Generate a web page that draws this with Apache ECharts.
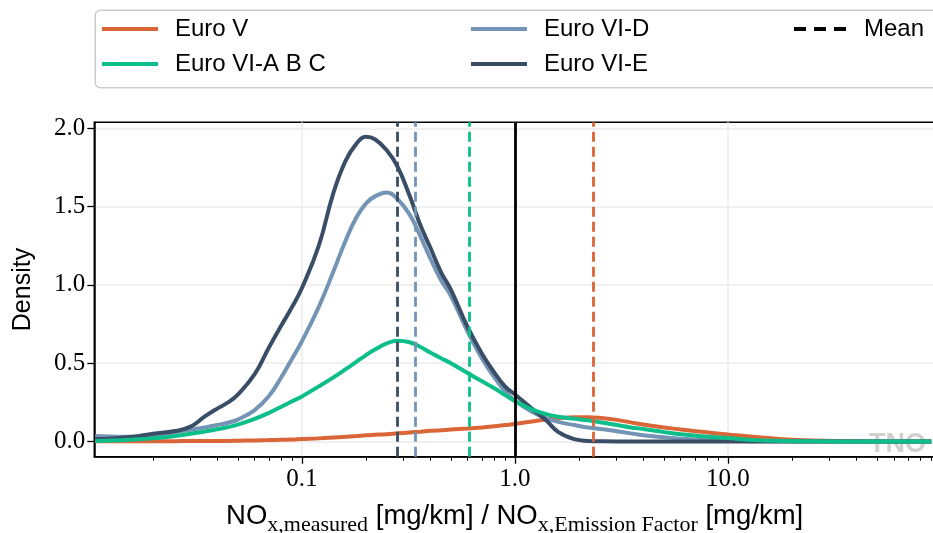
<!DOCTYPE html>
<html><head><meta charset="utf-8">
<script src="https://cdn.jsdelivr.net/npm/echarts@6/dist/echarts.min.js"></script>
<style>html,body{margin:0;padding:0;background:#fff}#c{width:933px;height:533px}</style>
</head><body><div id="c"></div>
<script>
// ---- data ----
const xValues = [0.0107, 0.013, 0.016, 0.02, 0.025, 0.03, 0.035, 0.04, 0.045, 0.05, 0.06, 0.07, 0.08, 0.09, 0.1, 0.12, 0.14, 0.16, 0.18, 0.2, 0.22, 0.25, 0.28, 0.32, 0.36, 0.4, 0.45, 0.5, 0.6, 0.7, 0.8, 0.9, 1.0, 1.2, 1.4, 1.6, 1.9, 2.2, 2.6, 3, 3.5, 4, 5, 6, 7.5, 10, 13, 18, 25, 40, 90];
const euroV = [0.001, 0.001, 0.001, 0.002, 0.002, 0.003, 0.003, 0.004, 0.004, 0.005, 0.007, 0.009, 0.011, 0.013, 0.016, 0.02, 0.025, 0.03, 0.035, 0.04, 0.043, 0.047, 0.052, 0.058, 0.063, 0.068, 0.072, 0.076, 0.083, 0.09, 0.097, 0.105, 0.112, 0.128, 0.141, 0.149, 0.155, 0.155, 0.148, 0.138, 0.122, 0.108, 0.09, 0.076, 0.062, 0.045, 0.03, 0.015, 0.006, 0.001, 0];
const euroVIABC = [0.003, 0.006, 0.012, 0.02, 0.033, 0.05, 0.064, 0.078, 0.092, 0.108, 0.145, 0.183, 0.222, 0.257, 0.288, 0.352, 0.408, 0.46, 0.508, 0.552, 0.587, 0.626, 0.644, 0.634, 0.603, 0.568, 0.532, 0.5, 0.437, 0.385, 0.34, 0.296, 0.258, 0.205, 0.175, 0.158, 0.145, 0.135, 0.12, 0.105, 0.09, 0.08, 0.06, 0.046, 0.034, 0.022, 0.01, 0.004, 0.001, 0, 0];
const euroVID = [0.035, 0.032, 0.03, 0.04, 0.058, 0.075, 0.09, 0.105, 0.12, 0.14, 0.2, 0.29, 0.41, 0.53, 0.64, 0.86, 1.08, 1.28, 1.43, 1.52, 1.565, 1.59, 1.55, 1.45, 1.31, 1.17, 1.03, 0.93, 0.7, 0.53, 0.41, 0.32, 0.26, 0.19, 0.15, 0.125, 0.105, 0.09, 0.078, 0.066, 0.052, 0.04, 0.027, 0.018, 0.011, 0.006, 0.002, 0.001, 0, 0, 0];
const euroVIE = [0.016, 0.02, 0.03, 0.05, 0.065, 0.095, 0.16, 0.21, 0.25, 0.3, 0.43, 0.6, 0.74, 0.86, 0.98, 1.25, 1.58, 1.79, 1.9, 1.945, 1.93, 1.86, 1.76, 1.57, 1.38, 1.24, 1.08, 0.97, 0.73, 0.56, 0.44, 0.35, 0.3, 0.21, 0.135, 0.06, 0.015, 0.004, 0.001, 0, 0, 0, 0, 0, 0, 0, 0, 0, 0, 0, 0];
const seriesNames = ['Euro V', 'Euro VI-A B C', 'Euro VI-D', 'Euro VI-E'];
const meanValues = [2.33, 0.615, 0.34, 0.28];
const referenceValue = 1.0;
const xMajorTicks = [0.1, 1, 10];
const xTickLabels = ['0.1', '1.0', '10.0'];
const xMinorTicks = [0.02, 0.03, 0.04, 0.05, 0.06, 0.07, 0.08, 0.09, 0.2, 0.3, 0.4, 0.5, 0.6, 0.7, 0.8, 0.9, 2, 3, 4, 5, 6, 7, 8, 9, 20, 30, 40, 50, 60, 70, 80, 90];
const yTicks = [0, 0.5, 1, 1.5, 2];
const yTickLabels = ['0.0', '0.5', '1.0', '1.5', '2.0'];

// ---- styles ----
const colors = {'Euro V': '#da6638', 'Euro VI-A B C': '#0cbf8a', 'Euro VI-D': '#7494b5', 'Euro VI-E': '#3a4d66'};
const SANS = 'Liberation Sans', SERIF = 'Liberation Serif';
const X_MIN = 0.0106, X_MAX = 93.7, Y_MIN = -0.097, Y_MAX = 2.038;

function nearestLabel(v, ticks, labels) {
  let best = 0, bd = Infinity;
  ticks.forEach((t, i) => { const d = Math.abs(Math.log(v) - Math.log(t)); if (d < bd) { bd = d; best = i; } });
  return labels[best];
}

const valueMap = {'Euro V': euroV, 'Euro VI-A B C': euroVIABC, 'Euro VI-D': euroVID, 'Euro VI-E': euroVIE};
const drawOrder = ['Euro V', 'Euro VI-D', 'Euro VI-E', 'Euro VI-A B C'];

const series = drawOrder.map(name => {
  const c = colors[name];
  const mlData = [{xAxis: meanValues[seriesNames.indexOf(name)]}];
  if (name === 'Euro V') {
    mlData.push({xAxis: referenceValue, lineStyle: {color: '#000', type: 'solid', width: 2.8}});
  }
  return {
    type: 'line', name, xAxisIndex: 0, yAxisIndex: 0,
    data: xValues.map((x, i) => [x, valueMap[name][i]]),
    symbol: 'none', smooth: 0.45,
    lineStyle: {color: c, width: 4}, itemStyle: {color: c},
    emphasis: {disabled: true},
    markLine: {silent: true, symbol: 'none', label: {show: false}, animation: false,
      lineStyle: {color: c, type: [10, 5], width: 2.8}, data: mlData}
  };
});
series.push({type: 'line', name: 'Mean', data: [], symbol: 'none', lineStyle: {color: '#000', type: 'dashed'}, itemStyle: {color: '#000'}});

const legendText = {fontFamily: SANS, fontSize: 24, color: '#000', padding: [0, 0, 0, 12]};
function leg(name, left, top, icon, w) {
  return {data: [name], left, top, icon, itemWidth: w, itemHeight: 4, padding: 0, itemGap: 0,
    selectedMode: false, textStyle: legendText};
}
const dashIcon = 'path://M0,0h12v4h-12z M20,0h12v4h-12z M40,0h12v4h-12z';

const option = {
  animation: false,
  backgroundColor: '#fff',
  grid: {left: 94.3, top: 122.3, right: -2, bottom: 76.3, outerBoundsMode: 'none', containLabel: false,
    show: true, borderColor: '#000', borderWidth: 1.5, backgroundColor: 'transparent'},
  legend: [
    leg('Euro V', 102, 17, 'rect', 56),
    leg('Euro VI-A B C', 102, 52, 'rect', 56),
    leg('Euro VI-D', 471, 17, 'rect', 56),
    leg('Euro VI-E', 471, 52, 'rect', 56),
    leg('Mean', 794, 17, dashIcon, 54)
  ],
  graphic: [
    {type: 'rect', left: 94.5, top: 9.5, z: -10, shape: {width: 860, height: 77.5, r: 5}, style: {fill: '#fff', stroke: '#cccccc', lineWidth: 1.5}},
    {type: 'text', left: 869, top: 431, z: 0, style: {text: 'TNO', font: 'bold 27px "Liberation Sans"', fill: '#d0d0d0'}}
  ],
  xAxis: [
    {type: 'log', min: X_MIN, max: X_MAX, position: 'bottom',
      axisLine: {show: true, onZero: false, lineStyle: {color: '#000', width: 1.5}},
      axisTick: {show: true, customValues: xMajorTicks, length: 7, lineStyle: {color: '#000', width: 1.3}},
      axisLabel: {customValues: xMajorTicks, formatter: v => nearestLabel(v, xMajorTicks, xTickLabels), fontFamily: SERIF, fontSize: 25, color: '#000', margin: 10},
      splitLine: {show: true, lineStyle: {color: '#ebebeb', width: 1.5}},
      minorTick: {show: false}, minorSplitLine: {show: false},
      name: '{a|NO}{s|x,measured}{a| [mg/km] / NO}{s|x,Emission Factor}{a| [mg/km]}',
      nameLocation: 'middle', nameGap: 46,
      nameTextStyle: {rich: {
        a: {fontFamily: SANS, fontSize: 27.5, color: '#000', lineHeight: 33, verticalAlign: 'top'},
        s: {fontFamily: SERIF, fontSize: 22, color: '#000', lineHeight: 25, padding: [12, 0, 0, 0], verticalAlign: 'top'}
      }}
    },
    {type: 'log', min: X_MIN, max: X_MAX, position: 'bottom',
      axisLine: {show: false, onZero: false},
      axisTick: {show: true, customValues: xMinorTicks, length: 4, lineStyle: {color: '#000', width: 1}},
      axisLabel: {show: false}, splitLine: {show: false}, minorTick: {show: false}
    }
  ],
  yAxis: {type: 'value', min: Y_MIN, max: Y_MAX,
    axisLine: {show: true, onZero: false, lineStyle: {color: '#000', width: 1.5}},
    axisTick: {show: true, customValues: yTicks, length: 7, lineStyle: {color: '#000', width: 1.3}},
    axisLabel: {customValues: yTicks, formatter: v => yTickLabels[yTicks.indexOf(Math.round(v * 2) / 2)], fontFamily: SERIF, fontSize: 25, color: '#000', margin: 9},
    splitLine: {show: true, lineStyle: {color: '#ebebeb', width: 1.5}},
    name: 'Density', nameLocation: 'middle', nameGap: 59,
    nameTextStyle: {fontFamily: SANS, fontSize: 25, color: '#000'}
  },
  series
};
const chart = echarts.init(document.getElementById('c'), null, {renderer: 'canvas'});
chart.setOption(option);
</script></body></html>
